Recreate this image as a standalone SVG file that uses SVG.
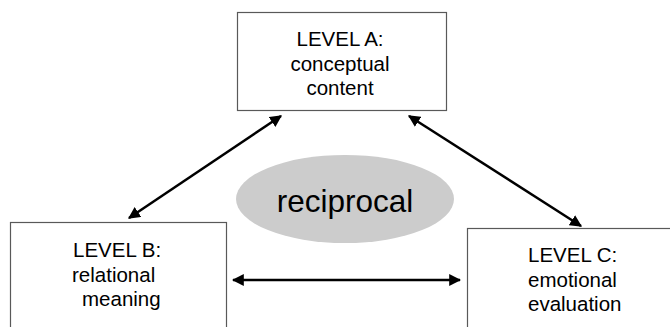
<svg xmlns="http://www.w3.org/2000/svg" width="670" height="327" viewBox="0 0 670 327">
<style>
.box{fill:#fff;stroke:#595959;stroke-width:1.2}
.t{font-family:"Liberation Sans",Arial,sans-serif;font-size:20.5px;fill:#000}
.c{text-anchor:middle}
.conn{stroke:#000;stroke-width:2.5;fill:none;marker-end:url(#ah);marker-start:url(#ah)}
</style>
<defs>
<marker id="ah" viewBox="0 0 10 10" refX="9" refY="5" markerWidth="4.8" markerHeight="4.8" orient="auto-start-reverse" markerUnits="strokeWidth">
<path d="M0,0 L10,5 L0,10 Z" fill="#000"/>
</marker>
</defs>
<rect width="670" height="327" fill="#fff"/>
<g id="reciprocal">
<ellipse cx="345" cy="199" rx="109" ry="44" fill="#cccccc"/>
<text class="t c" x="345" y="212" style="font-size:31.5px">reciprocal</text>
</g>
<g id="levelA">
<rect class="box" x="237.5" y="12.5" width="209" height="98"/>
<text class="t c" x="340" y="46">LEVEL A:</text>
<text class="t c" x="340" y="71">conceptual</text>
<text class="t c" x="340" y="95">content</text>
</g>
<g id="levelB">
<rect class="box" x="10.5" y="222.5" width="216" height="110"/>
<text class="t" x="73" y="257">LEVEL B:</text>
<text class="t" x="72" y="282">relational</text>
<text class="t" x="82" y="306">meaning</text>
</g>
<g id="levelC">
<rect class="box" x="467.5" y="228.5" width="210" height="110"/>
<text class="t" x="528" y="262">LEVEL C:</text>
<text class="t" x="528" y="287">emotional</text>
<text class="t" x="528" y="311">evaluation</text>
</g>
<g id="connectors">
<line class="conn" x1="129" y1="218" x2="281" y2="116"/>
<line class="conn" x1="409" y1="116" x2="581" y2="226"/>
<line class="conn" x1="233" y1="280" x2="460" y2="280"/>
</g>
</svg>
